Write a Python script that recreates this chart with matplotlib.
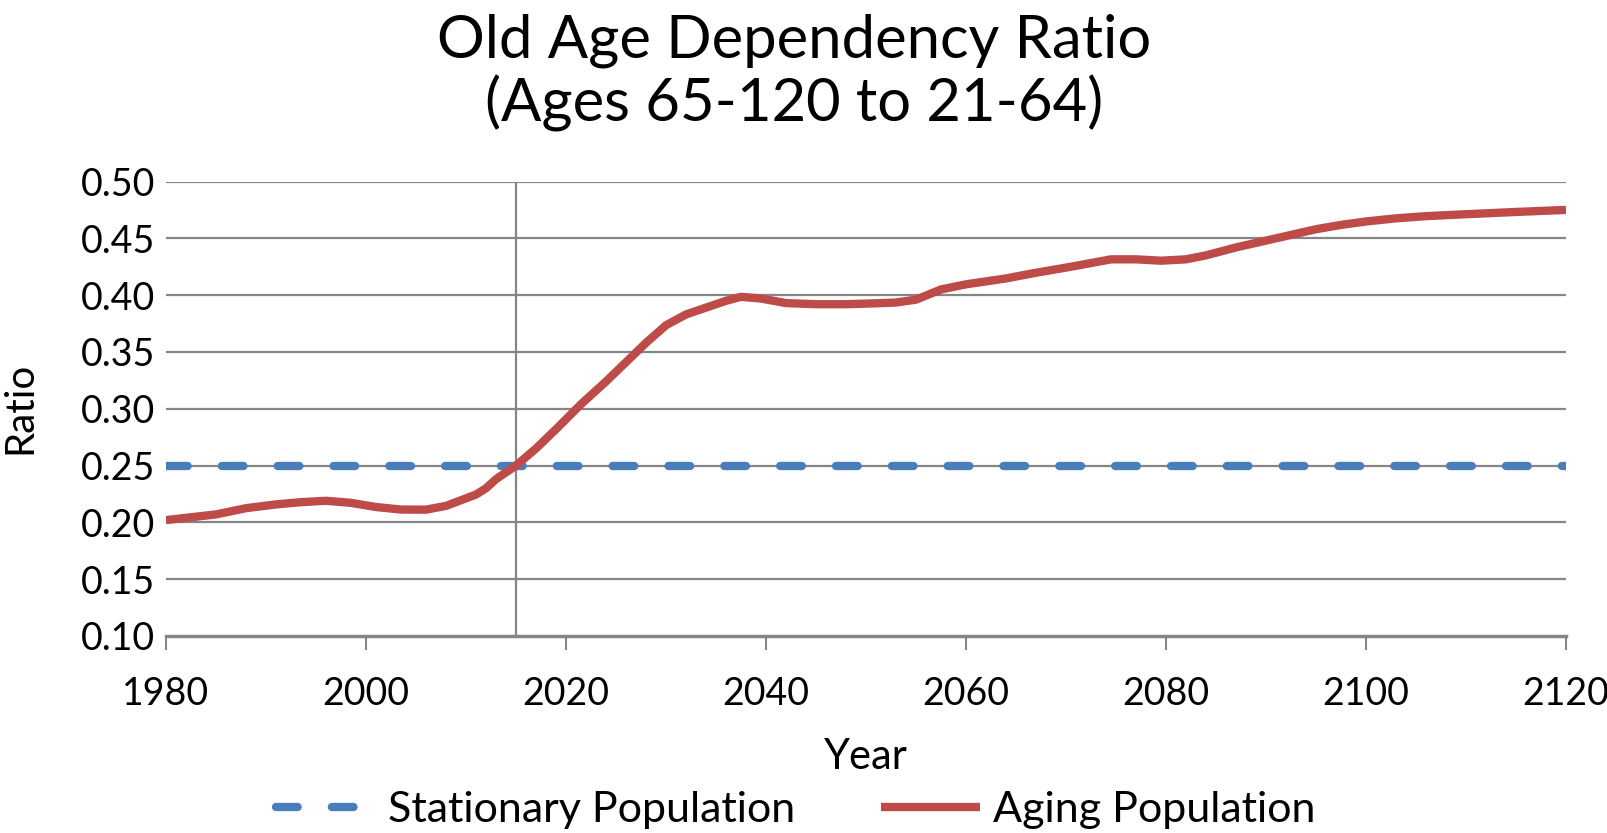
import numpy as np
import matplotlib
matplotlib.use('Agg')
import matplotlib.pyplot as plt

# valores
years_aging = [1980, 1982.5, 1985, 1988, 1991, 1993.5, 1996, 1998.5, 2001, 2003.5, 2006, 2008,
               2009.5, 2011, 2012, 2013, 2015, 2017, 2019, 2021.5, 2024, 2026, 2028, 2030,
               2032, 2034, 2036, 2037.5, 2039.5, 2042, 2045, 2048, 2051, 2053, 2055, 2057.5,
               2060, 2064, 2067, 2070.5, 2074.5, 2077, 2079.5, 2082, 2084, 2087, 2090, 2092.5,
               2095, 2097.5, 2100, 2103, 2106, 2110, 2115, 2120]
ratio_aging = [0.202, 0.2045, 0.207, 0.2125, 0.2158, 0.2178, 0.219, 0.2172, 0.2135, 0.2113, 0.2112, 0.2145,
               0.2195, 0.2245, 0.230, 0.238, 0.250, 0.265, 0.282, 0.304, 0.324, 0.341, 0.358, 0.3735,
               0.383, 0.389, 0.395, 0.3985, 0.397, 0.393, 0.392, 0.392, 0.3928, 0.3935, 0.396, 0.405,
               0.4095, 0.4147, 0.4197, 0.425, 0.4315, 0.4315, 0.4303, 0.4315, 0.435, 0.442, 0.448, 0.453,
               0.458, 0.4618, 0.4648, 0.4676, 0.4695, 0.4712, 0.4732, 0.475]

years_stat = [1980, 2000, 2020, 2040, 2060, 2080, 2100, 2120]
ratio_stat = [0.25, 0.25, 0.25, 0.25, 0.25, 0.25, 0.25, 0.25]

year_now = 2015

xticks = [1980, 2000, 2020, 2040, 2060, 2080, 2100, 2120]
yticks = [0.10, 0.15, 0.20, 0.25, 0.30, 0.35, 0.40, 0.45, 0.50]

fontsize = 27
grey = '#868686'
blue = '#4a7ebb'
red = '#be4b48'

plt.rcParams['font.family'] = ['Lato', 'DejaVu Sans']

W, H = 1608, 833
fig = plt.figure(figsize=(W/100, H/100), dpi=100)
fig.subplots_adjust(left=166/W, right=1566/W, top=1-181.5/H, bottom=1-636/H)
ax = fig.add_subplot(111)

for y in yticks[1:]:
    ax.axhline(y, color=grey, lw=1.6, zorder=1)
ax.axvline(year_now, color=grey, lw=1.6, zorder=1)

ax.plot(years_stat, ratio_stat, color=blue, lw=6, dashes=(2.6, 4.1),
        dash_capstyle='round', zorder=3, label='Stationary Population')
ax.plot(years_aging, ratio_aging, color=red, lw=6, solid_capstyle='butt',
        solid_joinstyle='round', zorder=4, label='Aging Population')

ax.set_xlim(1980, 2120)
ax.set_ylim(0.10, 0.50)
ax.set_xticks(xticks)
ax.set_yticks(yticks)
ax.set_yticklabels(['%.2f' % v for v in yticks])

for s in ['left', 'right', 'top']:
    ax.spines[s].set_visible(False)
ax.spines['bottom'].set_color(grey)
ax.spines['bottom'].set_linewidth(2.5)

ax.tick_params(axis='x', direction='out', length=10, width=1.5, color=grey,
               pad=19, labelsize=fontsize)
ax.tick_params(axis='y', length=0, pad=8, labelsize=fontsize)

fig.text(20/W, 1-408/H, 'Ratio', rotation=90, ha='center', va='center', fontsize=29)
fig.text(866/W, 1-757/H, 'Year', ha='center', va='center', fontsize=30)

fig.text(794/W, 1-41/H, 'Old Age Dependency Ratio', ha='center', va='center', fontsize=43)
fig.text(794/W, 1-103/H, '(Ages 65-120 to 21-64)', ha='center', va='center', fontsize=43)

fig.legend(loc='center', bbox_to_anchor=(796/W, 1-810/H), ncol=2, frameon=False,
           fontsize=31, handlelength=2.3, handletextpad=0.3, columnspacing=2.0,
           borderpad=0)

fig.savefig('out.png', dpi=100)
